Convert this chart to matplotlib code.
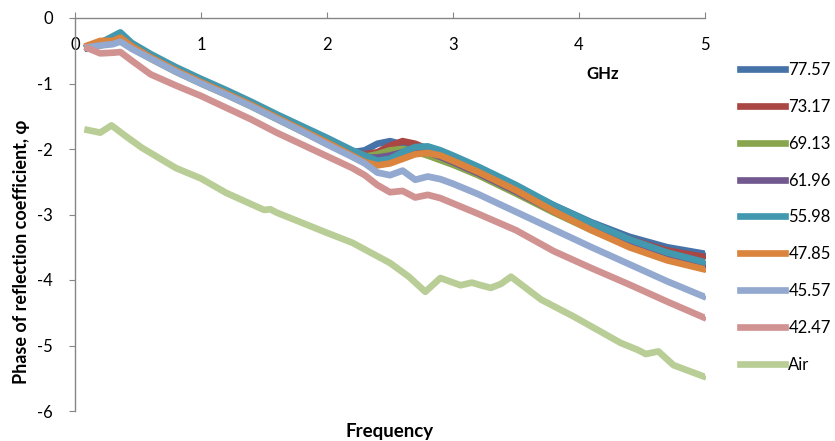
import matplotlib
matplotlib.use("Agg")
import matplotlib.pyplot as plt

plt.rcParams['font.family'] = ['Lato', 'DejaVu Sans']
plt.rcParams['axes.unicode_minus'] = False

# frequency grid (GHz) shared by the sample series
freq = [0.1, 0.2, 0.3, 0.36, 0.45, 0.6, 0.8, 1.0, 1.2, 1.4, 1.6, 1.8, 2.0, 2.2, 2.3,
        2.4, 2.5, 2.6, 2.7, 2.8, 2.9, 3.0, 3.2, 3.5, 3.8, 4.1, 4.4, 4.7, 5.0]

s7757 = [-0.45, -0.40, -0.33, -0.30, -0.42, -0.57, -0.77, -0.95, -1.12, -1.30, -1.49, -1.67, -1.86, -2.05, -2.02,
         -1.92, -1.88, -1.93, -2.00, -2.05, -2.10, -2.17, -2.32, -2.58, -2.86, -3.12, -3.34, -3.50, -3.60]
s7317 = [-0.45, -0.40, -0.34, -0.31, -0.43, -0.58, -0.78, -0.96, -1.13, -1.31, -1.50, -1.68, -1.87, -2.05, -2.08,
         -2.05, -1.95, -1.88, -1.92, -2.00, -2.08, -2.16, -2.32, -2.59, -2.88, -3.15, -3.38, -3.55, -3.65]
s6913 = [-0.46, -0.42, -0.37, -0.33, -0.46, -0.62, -0.82, -1.00, -1.17, -1.35, -1.54, -1.73, -1.92, -2.10, -2.12,
         -2.08, -2.02, -2.00, -2.04, -2.10, -2.17, -2.24, -2.40, -2.68, -2.97, -3.24, -3.48, -3.65, -3.76]
s6196 = [-0.46, -0.41, -0.36, -0.33, -0.45, -0.61, -0.81, -0.99, -1.16, -1.34, -1.53, -1.72, -1.91, -2.10, -2.13,
         -2.13, -2.10, -2.05, -2.02, -2.05, -2.12, -2.20, -2.37, -2.65, -2.95, -3.22, -3.47, -3.65, -3.78]
s5598 = [-0.45, -0.38, -0.28, -0.22, -0.38, -0.55, -0.75, -0.93, -1.10, -1.28, -1.47, -1.65, -1.83, -2.02, -2.10,
         -2.18, -2.15, -2.05, -1.97, -1.96, -2.02, -2.10, -2.27, -2.55, -2.86, -3.13, -3.38, -3.58, -3.73]
s4785 = [-0.42, -0.35, -0.35, -0.30, -0.43, -0.60, -0.80, -0.98, -1.15, -1.33, -1.52, -1.71, -1.90, -2.10, -2.20,
         -2.25, -2.22, -2.15, -2.08, -2.06, -2.10, -2.18, -2.35, -2.63, -2.95, -3.24, -3.50, -3.70, -3.84]
s4557 = [-0.45, -0.42, -0.40, -0.36, -0.47, -0.62, -0.82, -1.00, -1.17, -1.35, -1.54, -1.73, -1.93, -2.12, -2.22,
         -2.36, -2.40, -2.33, -2.47, -2.42, -2.46, -2.53, -2.69, -2.96, -3.23, -3.50, -3.76, -4.02, -4.26]
s4247 = [-0.46, -0.54, -0.53, -0.52, -0.65, -0.86, -1.03, -1.19, -1.37, -1.55, -1.75, -1.93, -2.11, -2.29, -2.40,
         -2.55, -2.66, -2.64, -2.74, -2.70, -2.75, -2.83, -2.99, -3.24, -3.56, -3.82, -4.07, -4.33, -4.58]

freq_air = [0.1, 0.2, 0.29, 0.4, 0.53, 0.8, 1.0, 1.2, 1.5, 1.55, 1.6, 2.0, 2.2, 2.5, 2.65, 2.78,
            2.9, 3.06, 3.15, 3.22, 3.3, 3.38, 3.46, 3.7, 3.96, 4.33, 4.47, 4.53, 4.63, 4.75, 5.0]
air = [-1.71, -1.75, -1.64, -1.80, -1.98, -2.29, -2.45, -2.67, -2.93, -2.92, -2.97, -3.28, -3.43, -3.74, -3.95, -4.18,
       -3.97, -4.08, -4.04, -4.08, -4.12, -4.06, -3.95, -4.30, -4.56, -4.96, -5.07, -5.13, -5.09, -5.30, -5.48]

labels = ['77.57', '73.17', '69.13', '61.96', '55.98', '47.85', '45.57', '42.47', 'Air']
colors = ['#4572A7', '#AA4643', '#89A54E', '#71588F', '#4198AF', '#DB843D', '#93A9CF', '#D19392', '#B9CD96']
series = [s7757, s7317, s6913, s6196, s5598, s4785, s4557, s4247]

fig = plt.figure(figsize=(8.35, 4.41), dpi=100)
ax = fig.add_axes([75/835, 1 - 411/441, 630/835, 393/441])

for ys, lab, c in zip(series, labels[:-1], colors[:-1]):
    ax.plot(freq, ys, color=c, lw=4.8, label=lab, solid_joinstyle='round',
            marker='|', markersize=3, markeredgewidth=1)
ax.plot(freq_air, air, color=colors[-1], lw=4.8, label=labels[-1], solid_joinstyle='round',
        marker='|', markersize=3, markeredgewidth=1)

ax.set_xlim(0, 5)
ax.set_ylim(-6, 0)
ax.set_xticks(range(0, 6))
ax.set_yticks(range(-6, 1))

for side in ['bottom', 'right']:
    ax.spines[side].set_visible(False)
for side in ['top', 'left']:
    ax.spines[side].set_color('#868686')
    ax.spines[side].set_linewidth(1)

ax.tick_params(axis='x', top=True, bottom=False, labeltop=True, labelbottom=False,
               direction='out', length=4, color='#868686', pad=-29, labelsize=12)
ax.tick_params(axis='y', direction='out', length=4, color='#868686', pad=12, labelsize=12)

fig.text(22/835, 1 - 252/441, 'Phase of reflection coefficient, φ', rotation=90,
         ha='center', va='center', fontsize=13, fontweight='bold')
fig.text(390/835, 1 - 431/441, 'Frequency', ha='center', va='center', fontsize=13.5, fontweight='bold')
ax.text(4.06, -0.86, 'GHz', ha='left', va='center', fontsize=12, fontweight='bold')

fig.legend(loc='upper left', bbox_to_anchor=(725/835, 1 - 47/441), frameon=False,
           fontsize=12, handlelength=2.7, handletextpad=0.2, labelspacing=1.25)

fig.savefig('out.png', dpi=100)
